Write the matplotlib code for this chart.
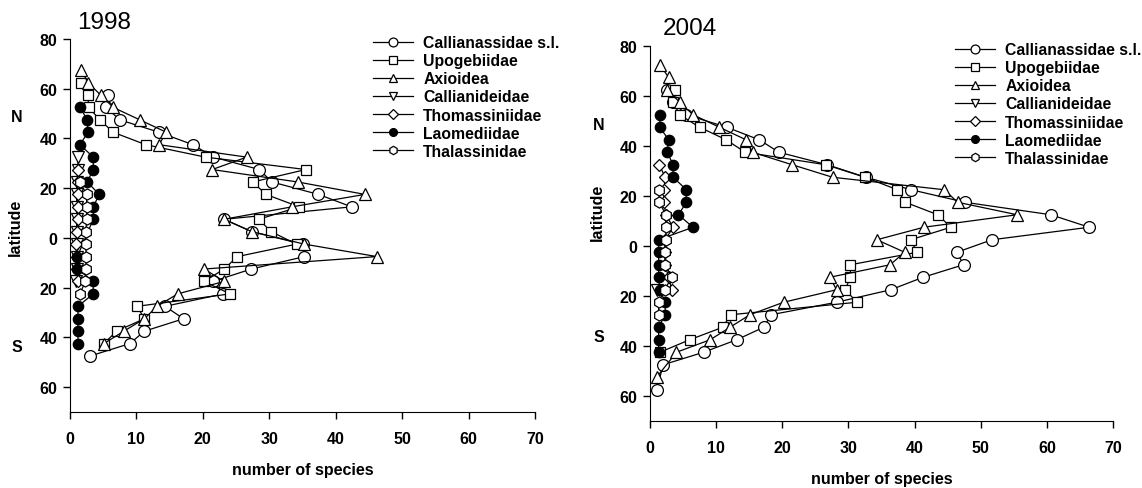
import matplotlib
matplotlib.use("Agg")
import matplotlib.pyplot as plt
from matplotlib.ticker import FuncFormatter

plt.rcParams['font.family'] = ['Liberation Sans', 'DejaVu Sans']

# ---- 1998 ----
cal98_lat = [57.5, 52.5, 47.5, 42.5, 37.5, 32.5, 27.5, 22.5, 17.5, 12.5, 7.5, 2.5, -2.5, -7.5,
             -12.5, -17.5, -22.5, -27.5, -32.5, -37.5, -42.5, -47.5]
cal98_n = [5.7, 5.4, 7.5, 13.4, 18.5, 21.6, 28.5, 30.4, 37.4, 42.4, 23.2, 27.4, 35.0, 35.3,
           27.3, 21.5, 23.1, 14.3, 17.1, 11.2, 9.0, 3.0]
upo98_lat = [62.5, 57.5, 52.5, 47.5, 42.5, 37.5, 32.5, 27.5, 22.5, 17.5, 12.5, 7.5, 2.5, -2.5,
             -7.5, -12.5, -17.5, -22.5, -27.5, -32.5, -37.5, -42.5]
upo98_n = [1.6, 2.7, 2.8, 4.5, 6.5, 11.4, 20.4, 35.5, 27.5, 29.5, 34.5, 28.4, 30.3, 34.1,
           25.2, 23.2, 20.2, 24.1, 10.1, 11.2, 7.0, 5.1]
axi98_lat = [67.5, 62.5, 57.5, 52.5, 47.5, 42.5, 37.5, 32.5, 27.5, 22.5, 17.5, 12.5, 7.5, 2.5,
             -2.5, -7.5, -12.5, -17.5, -22.5, -27.5, -32.5, -37.5, -42.5]
axi98_n = [1.7, 2.7, 4.6, 6.5, 10.5, 14.5, 13.4, 26.6, 21.4, 34.3, 44.4, 33.4, 23.2, 27.4,
           35.3, 46.2, 20.2, 23.2, 16.2, 13.1, 11.2, 8.1, 5.1]
cde98_lat = [32.5, 27.5, 22.5, 17.5, 12.5, 7.5, 2.5, -2.5, -7.5, -12.5, -17.5]
cde98_n = [1.2, 1.2, 1.0, 1.0, 1.0, 1.0, 1.0, 1.0, 1.0, 1.0, 0.9]
tho98_lat = [27.5, 22.5, 17.5, 12.5, 7.5, 2.5, -2.5, -7.5, -12.5, -17.5]
tho98_n = [1.2, 1.2, 1.2, 1.2, 1.2, 1.0, 0.9, 1.0, 1.0, 1.2]
lao98_lat = [52.5, 47.5, 42.5, 37.5, 32.5, 27.5, 22.5, 17.5, 12.5, 7.5, -7.5, -12.5, -17.5,
             -22.5, -27.5, -32.5, -37.5, -42.5]
lao98_n = [1.5, 2.6, 2.7, 1.5, 3.5, 3.5, 2.6, 4.4, 3.5, 3.5, 1.1, 1.1, 3.5, 3.5, 1.2, 1.2, 1.2, 1.2]
tha98_lat = [22.5, 17.5, 12.5, 7.5, 2.5, -2.5, -7.5, -12.5, -17.5, -22.5]
tha98_n = [1.5, 2.5, 2.5, 2.5, 2.4, 2.4, 2.4, 2.4, 2.3, 1.5]

# ---- 2004 ----
cal04_lat = [62.5, 57.5, 52.5, 47.5, 42.5, 37.5, 32.5, 27.5, 22.5, 17.5, 12.5, 7.5, 2.5, -2.5,
             -7.5, -12.5, -17.5, -22.5, -27.5, -32.5, -37.5, -42.5, -47.5, -57.5]
cal04_n = [2.6, 3.5, 5.5, 11.6, 16.5, 19.5, 26.8, 32.6, 39.5, 47.6, 60.6, 66.4, 51.7, 46.4,
           47.4, 41.3, 36.4, 28.2, 18.3, 17.2, 13.1, 8.1, 2.0, 1.0]
upo04_lat = [62.5, 57.5, 52.5, 47.5, 42.5, 37.5, 32.5, 27.5, 22.5, 17.5, 12.5, 7.5, 2.5, -2.5,
             -7.5, -12.5, -17.5, -22.5, -27.5, -32.5, -37.5, -42.5]
upo04_n = [3.8, 3.5, 4.5, 7.5, 11.5, 14.4, 26.6, 32.5, 37.4, 38.6, 43.5, 45.5, 39.4, 40.4,
           30.3, 30.3, 29.5, 31.3, 12.2, 11.0, 6.0, 1.5]
axi04_lat = [72.5, 67.5, 62.5, 57.5, 52.5, 47.5, 42.5, 37.5, 32.5, 27.5, 22.5, 17.5, 12.5, 7.5,
             2.5, -2.5, -7.5, -12.5, -17.5, -22.5, -27.5, -32.5, -37.5, -42.5, -52.5]
axi04_n = [1.5, 2.8, 2.6, 4.5, 6.5, 10.5, 14.5, 15.5, 21.5, 27.6, 44.5, 46.5, 55.5, 41.4,
           34.3, 38.5, 36.3, 27.2, 28.2, 20.2, 15.1, 12.1, 9.1, 4.0, 1.0]
cde04_lat = [-17.5]
cde04_n = [1.0]
tho04_lat = [32.5, 27.5, 22.5, 17.5, 12.5, 7.5, 2.5, -2.5, -7.5, -12.5, -17.5]
tho04_n = [1.4, 2.3, 2.1, 2.1, 2.4, 3.5, 2.3, 2.3, 2.3, 2.8, 3.3]
lao04_lat = [52.5, 47.5, 42.5, 37.5, 32.5, 27.5, 22.5, 17.5, 12.5, 7.5, 2.5, -2.5, -7.5,
             -12.5, -17.5, -22.5, -27.5, -32.5, -37.5, -42.5]
lao04_n = [1.5, 1.5, 2.8, 2.6, 3.5, 3.5, 5.5, 5.5, 4.3, 6.5, 1.3, 1.3, 1.3, 1.3, 1.5, 2.3, 2.3,
           1.3, 1.3, 1.3]
tha04_lat = [22.5, 17.5, 12.5, 7.5, 2.5, -2.5, -7.5, -12.5, -17.5, -22.5, -27.5]
tha04_n = [1.4, 1.4, 2.4, 2.4, 2.4, 2.3, 2.3, 3.3, 2.2, 1.3, 1.3]

names = ["Callianassidae s.l.", "Upogebiidae", "Axioidea", "Callianideidae",
         "Thomassiniidae", "Laomediidae", "Thalassinidae"]
# marker, size, face colour
styles = [("o", 8.5, "white"), ("s", 7.0, "white"), ("^", 8.0, "white"), ("v", 8.0, "white"),
          ("D", 6.5, "white"), ("o", 7.5, "black"), ("h", 8.0, "white")]

data98 = [(cal98_lat, cal98_n), (upo98_lat, upo98_n), (axi98_lat, axi98_n), (cde98_lat, cde98_n),
          (tho98_lat, tho98_n), (lao98_lat, lao98_n), (tha98_lat, tha98_n)]
data04 = [(cal04_lat, cal04_n), (upo04_lat, upo04_n), (axi04_lat, axi04_n), (cde04_lat, cde04_n),
          (tho04_lat, tho04_n), (lao04_lat, lao04_n), (tha04_lat, tha04_n)]

fig = plt.figure(figsize=(11.42, 4.89), dpi=100)
W, H = 1142.0, 489.0


def panel(rect, data, legend_xy):
    ax = fig.add_axes(rect)
    for (lat, n), (mk, ms, fc), name in zip(data, styles, names):
        ax.plot(n, lat, color="black", lw=0.9, marker=mk, ms=ms, mfc=fc, mec="black",
                mew=0.9, label=name)
    ax.set_xlim(0, 70)
    ax.set_ylim(-70, 80)
    ax.set_xticks(range(0, 71, 10))
    ax.set_yticks(range(-60, 81, 20))
    ax.yaxis.set_major_formatter(FuncFormatter(lambda v, p: f"{abs(int(v))}"))
    for s in ["top", "right"]:
        ax.spines[s].set_visible(False)
    ax.spines["left"].set_bounds(-70, 80)
    ax.tick_params(axis="x", direction="out", length=5, width=1, pad=9, labelsize=11.5)
    ax.tick_params(axis="y", direction="out", length=5, width=1, pad=4, labelsize=11.5)
    for lab in ax.get_xticklabels() + ax.get_yticklabels():
        lab.set_fontweight("bold")
    ax.set_xlabel("number of species", fontsize=11.5, fontweight="bold", labelpad=11)
    fig.legend(*ax.get_legend_handles_labels(), loc="upper left",
               bbox_to_anchor=legend_xy, bbox_transform=fig.transFigure, frameon=False,
               borderpad=0, borderaxespad=0, handlelength=2.55, handletextpad=0.65,
               labelspacing=0.2, markerscale=0.75, prop={"size": 11.3, "weight": "bold"})
    return ax


panel([70 / W, 1 - 413 / H, 465 / W, 373 / H], data98, (373 / W, 1 - 36 / H))
panel([650 / W, 1 - 422 / H, 463 / W, 375 / H], data04, (955 / W, 1 - 43 / H))

fig.text(77 / W, 1 - 23 / H, "1998", fontsize=17.5, ha="left", va="center")
fig.text(663 / W, 1 - 29 / H, "2004", fontsize=17.5, ha="left", va="center")

for x0, ylat, yn, ys in [(15, 227, 118, 347), (597, 212, 125, 338)]:
    fig.text(x0 / W, 1 - ylat / H, "latitude", rotation=90, fontsize=11.5, fontweight="bold",
             ha="center", va="center")
    fig.text((x0 + 2) / W, 1 - yn / H, "N", fontsize=11.5, fontweight="bold", ha="center",
             va="center")
    fig.text((x0 + 2) / W, 1 - ys / H, "S", fontsize=11.5, fontweight="bold", ha="center",
             va="center")

fig.savefig("out.png", dpi=100)
